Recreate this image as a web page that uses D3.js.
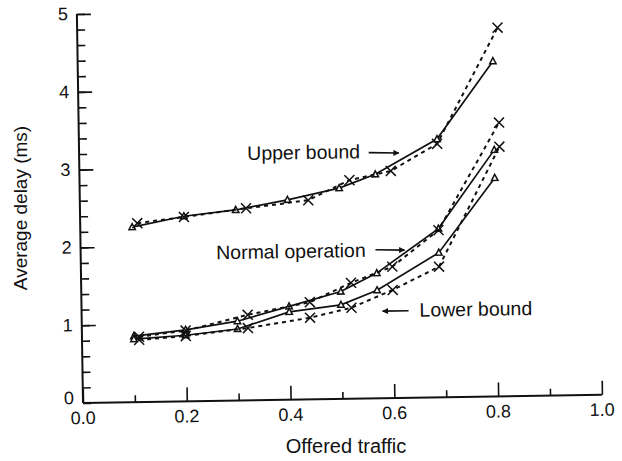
<!DOCTYPE html>
<html>
<head>
<meta charset="utf-8">
<script src="https://cdn.jsdelivr.net/npm/d3@7"></script>
<style>
  body { margin: 0; background: #fff; }
  svg text { font-family: "Liberation Sans", Arial, sans-serif; fill: #111; }
</style>
</head>
<body>
<svg id="chart" width="622" height="461"></svg>
<script>
// Values: offered traffic vs average delay (ms)
// triangles = solid curves, crosses = dashed curves
const triLoads = [0.1, 0.2, 0.3, 0.4, 0.5, 0.57, 0.69, 0.8];
const crossLoads = [0.11, 0.2, 0.32, 0.44, 0.52, 0.6, 0.69, 0.81];

const upperSolid = [2.25, 2.38, 2.45, 2.57, 2.71, 2.88, 3.32, 4.31];
const upperDashed = [2.3, 2.37, 2.47, 2.56, 2.81, 2.92, 3.26, 4.74];
const normalSolid = [0.85, 0.92, 1.02, 1.2, 1.38, 1.61, 2.17, 3.17];
const normalDashed = [0.84, 0.91, 1.1, 1.25, 1.49, 1.69, 2.15, 3.52];
const lowerSolid = [0.81, 0.85, 0.92, 1.13, 1.21, 1.39, 1.86, 2.81];
const lowerDashed = [0.8, 0.84, 0.93, 1.05, 1.17, 1.39, 1.68, 3.21];

const xTickLabels = ["0.0", "0.2", "0.4", "0.6", "0.8", "1.0"];
const yTickLabels = ["0", "1", "2", "3", "4", "5"];

// Annotations: label, text anchor point, arrow from -> to (data units)
const notes = [
  { text: "Upper bound", at: [0.324, 3.09], from: [0.558, 3.16], to: [0.616, 3.15] },
  { text: "Normal operation", at: [0.261, 1.82], from: [0.568, 1.91], to: [0.624, 1.9] },
  { text: "Lower bound", at: [0.651, 1.04], from: [0.63, 1.12], to: [0.58, 1.12] }
];

const svg = d3.select("#chart");
const ox = 83, oy = 403;

const x = d3.scaleLinear().domain([0, 1]).range([ox, ox + 519]);
const y = d3.scaleLinear().domain([0, 5]).range([oy, oy - 389]);

// the scanned figure sits slightly tilted
const g = svg.append("g").attr("transform", `rotate(-0.9,${ox},${oy})`);

// arrow head
svg.append("defs").append("marker")
  .attr("id", "head")
  .attr("viewBox", "0 0 10 10")
  .attr("refX", 9).attr("refY", 5)
  .attr("markerWidth", 10).attr("markerHeight", 6)
  .attr("markerUnits", "userSpaceOnUse")
  .attr("orient", "auto")
  .append("path").attr("d", "M0,0L10,5L0,10Z").attr("fill", "#111");

// X axis, ticks pointing inward
g.append("g")
  .attr("transform", `translate(0,${oy})`)
  .call(d3.axisTop(x).tickValues(d3.range(0.1, 1.01, 0.2)).tickSize(7).tickFormat(""))
  .call(a => a.select(".domain").remove());
g.append("g")
  .attr("transform", `translate(0,${oy})`)
  .call(d3.axisTop(x).tickValues(d3.range(0, 1.01, 0.2)).tickSize(14).tickSizeOuter(0).tickFormat(""))
  .call(a => a.select(".domain").attr("d", `M${ox},0H${x(1)}`));
g.append("g").selectAll("text")
  .data(xTickLabels)
  .join("text")
  .attr("x", (d, i) => x(i * 0.2))
  .attr("y", oy + 21)
  .attr("text-anchor", "middle")
  .attr("font-size", 18)
  .text(d => d);

// Y axis
g.append("g")
  .attr("transform", `translate(${ox},0)`)
  .call(d3.axisRight(y).tickValues(d3.range(0, 5.01, 0.2)).tickSize(8).tickFormat(""))
  .call(a => a.select(".domain").remove());
g.append("g")
  .attr("transform", `translate(${ox},0)`)
  .call(d3.axisRight(y).tickValues(d3.range(1, 5.01, 1)).tickSize(14).tickSizeOuter(0).tickFormat(""))
  .call(a => a.select(".domain").attr("d", `M0,${oy}V${y(5)}`));
g.append("g").selectAll("text")
  .data(yTickLabels)
  .join("text")
  .attr("x", ox - 9)
  .attr("y", (d, i) => y(i) + (i ? 6 : 1))
  .attr("text-anchor", "end")
  .attr("font-size", 18)
  .text(d => d);

g.selectAll(".tick line").attr("stroke", "#111").attr("stroke-width", 1.6);
g.selectAll(".domain").attr("stroke", "#111").attr("stroke-width", 2);

// Curves
const series = [
  { loads: triLoads, vals: upperSolid, dash: null, mark: "tri" },
  { loads: crossLoads, vals: upperDashed, dash: "4,4", mark: "cross" },
  { loads: triLoads, vals: normalSolid, dash: null, mark: "tri" },
  { loads: crossLoads, vals: normalDashed, dash: "4,4", mark: "cross" },
  { loads: triLoads, vals: lowerSolid, dash: null, mark: "tri" },
  { loads: crossLoads, vals: lowerDashed, dash: "4,4", mark: "cross" }
];

const line = d3.line().x(d => x(d[0])).y(d => y(d[1]));

series.forEach(s => {
  const pts = s.loads.map((l, i) => [l, s.vals[i]]);
  g.append("path")
    .attr("d", line(pts))
    .attr("fill", "none")
    .attr("stroke", "#111")
    .attr("stroke-width", s.dash ? 2 : 1.7)
    .attr("stroke-dasharray", s.dash);

  const m = g.append("g").selectAll("path")
    .data(pts)
    .join("path")
    .attr("transform", d => `translate(${x(d[0])},${y(d[1])})`)
    .attr("stroke", "#111")
    .attr("stroke-width", 1.5);
  if (s.mark === "tri") {
    m.attr("d", "M0,-3.5L3.2,2.5L-3.2,2.5Z").attr("fill", "#fff");
  } else {
    m.attr("d", "M-5,-5L5,5M-5,5L5,-5").attr("fill", "none");
  }
});

// Annotations with arrows
notes.forEach(n => {
  g.append("text")
    .attr("x", x(n.at[0]))
    .attr("y", y(n.at[1]))
    .attr("font-size", 19.5)
    .text(n.text);
  g.append("line")
    .attr("x1", x(n.from[0])).attr("y1", y(n.from[1]))
    .attr("x2", x(n.to[0])).attr("y2", y(n.to[1]))
    .attr("stroke", "#111")
    .attr("stroke-width", 1.6)
    .attr("marker-end", "url(#head)");
});

// Axis titles
svg.append("text")
  .attr("x", 346)
  .attr("y", 453)
  .attr("text-anchor", "middle")
  .attr("font-size", 20)
  .text("Offered traffic");

svg.append("text")
  .attr("transform", "translate(27,208) rotate(-90)")
  .attr("text-anchor", "middle")
  .attr("font-size", 19)
  .text("Average delay (ms)");
</script>
</body>
</html>
